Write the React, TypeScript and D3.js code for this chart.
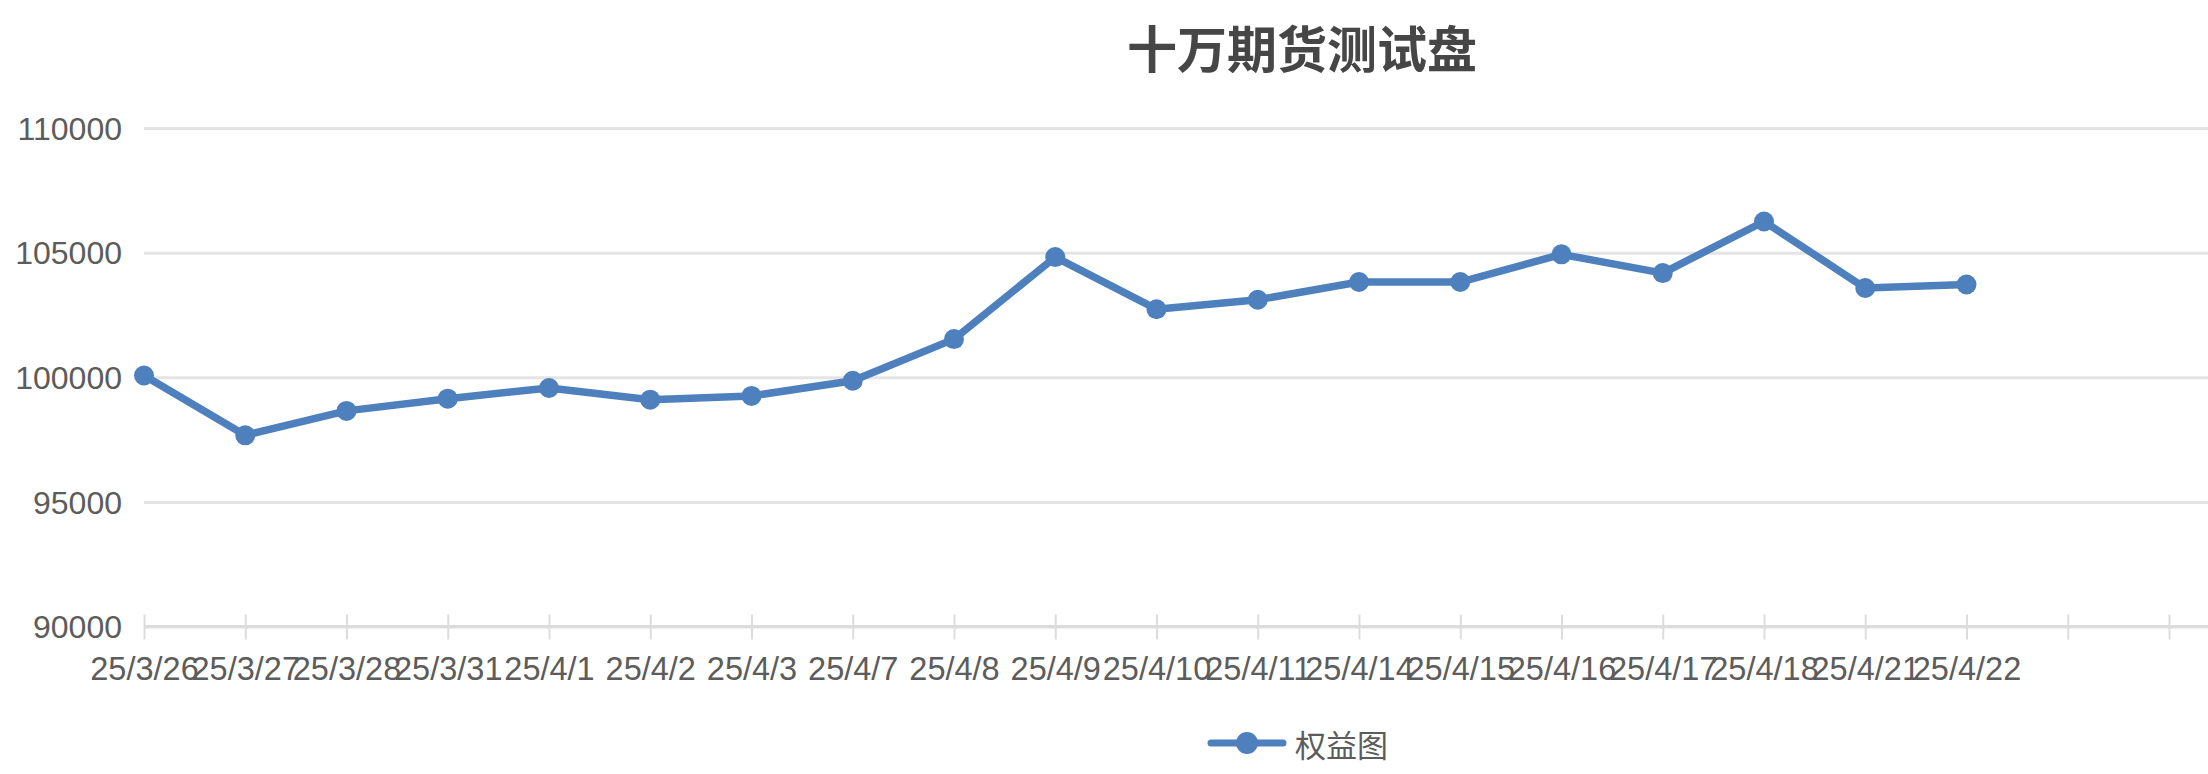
import * as d3 from "d3";
import React from "react";

// x categories (trailing blanks are empty slots on the axis)
const dates = [
  "25/3/26", "25/3/27", "25/3/28", "25/3/31", "25/4/1", "25/4/2", "25/4/3",
  "25/4/7", "25/4/8", "25/4/9", "25/4/10", "25/4/11", "25/4/14", "25/4/15",
  "25/4/16", "25/4/17", "25/4/18", "25/4/21", "25/4/22", "", "", "",
];
// equity series
const equity = [
  100070, 97670, 98650, 99140, 99570, 99100, 99250, 99860, 101530, 104820,
  102730, 103110, 103820, 103820, 104930, 104180, 106250, 103580, 103720,
];
const yTicks = [90000, 95000, 100000, 105000, 110000];
const title = "十万期货测试盘";
const seriesName = "权益图";

const App: React.FC = (): React.ReactElement => {
  const ref = React.useRef<SVGSVGElement>(null);

  React.useEffect(() => {
    const svgDimensions = { width: 2208, height: 774 };
    const margin = { left: 144, top: 128, bottom: 147.5 };
    const step = 101.25;
    const COLOR = "#4e80bd";
    const TEXT = "#5c5c5c";
    const FONT = "'Liberation Sans', Arial, sans-serif";
    const CJK = "'Noto Sans CJK SC', sans-serif";

    const svg = d3.select(ref.current);
    svg.selectAll("*").remove();

    const x = d3
      .scalePoint<number>()
      .domain(dates.map((_, i) => i))
      .range([margin.left, margin.left + step * (dates.length - 1)]);

    const y = d3
      .scaleLinear()
      .domain([90000, 110000])
      .range([svgDimensions.height - margin.bottom, margin.top]);

    // grid + y labels
    const yAxis = svg
      .append("g")
      .attr("transform", `translate(${margin.left},0)`)
      .call(
        d3
          .axisLeft(y)
          .tickValues(yTicks)
          .tickSize(-(svgDimensions.width - margin.left))
          .tickPadding(22)
          .tickFormat((d) => String(d))
      );
    yAxis.select(".domain").remove();
    yAxis.selectAll(".tick line").attr("stroke", "#e4e4e4").attr("stroke-width", 3);
    yAxis
      .selectAll(".tick text")
      .attr("fill", TEXT)
      .attr("font-size", 32)
      .attr("font-family", FONT)
      .attr("dy", "0.35em");

    // x axis
    const xAxis = svg
      .append("g")
      .attr("transform", `translate(0,${y(90000)})`)
      .call(
        d3
          .axisBottom(x)
          .tickSizeOuter(0)
          .tickFormat((i) => dates[i as number])
      );
    xAxis
      .select(".domain")
      .attr("d", `M${margin.left},0H${svgDimensions.width}`)
      .attr("stroke", "#dcdcdc")
      .attr("stroke-width", 3);
    xAxis
      .selectAll(".tick line")
      .attr("y1", -12)
      .attr("y2", 13)
      .attr("stroke", "#dcdcdc")
      .attr("stroke-width", 2);
    xAxis
      .selectAll(".tick text")
      .attr("y", 42.5)
      .attr("dy", "0.35em")
      .attr("fill", TEXT)
      .attr("font-size", 32.5)
      .attr("font-family", FONT);

    // line + markers
    const line = d3
      .line<number>()
      .x((_, i) => x(i) as number)
      .y((d) => y(d));

    svg
      .append("path")
      .datum(equity)
      .attr("d", line)
      .attr("fill", "none")
      .attr("stroke", COLOR)
      .attr("stroke-width", 7.5)
      .attr("stroke-linejoin", "round");

    svg
      .append("g")
      .selectAll("circle")
      .data(equity)
      .enter()
      .append("circle")
      .attr("cx", (_, i) => x(i) as number)
      .attr("cy", (d) => y(d))
      .attr("r", 10)
      .attr("fill", COLOR);

    // title
    svg
      .append("text")
      .attr("x", 1302)
      .attr("y", 46)
      .attr("text-anchor", "middle")
      .attr("dominant-baseline", "central")
      .attr("font-size", 50)
      .attr("font-weight", "bold")
      .attr("font-family", CJK)
      .attr("fill", "#464646")
      .text(title);

    // legend
    const legend = svg.append("g").attr("transform", "translate(1207,743)");
    legend
      .append("line")
      .attr("x1", 4)
      .attr("x2", 76)
      .attr("stroke", COLOR)
      .attr("stroke-width", 7)
      .attr("stroke-linecap", "round");
    legend.append("circle").attr("cx", 40).attr("r", 11).attr("fill", COLOR);
    legend
      .append("text")
      .attr("x", 88)
      .attr("dominant-baseline", "central")
      .attr("font-size", 31)
      .attr("font-family", CJK)
      .attr("fill", TEXT)
      .text(seriesName);
  }, []);

  return (
    <svg
      ref={ref}
      width={2208}
      height={774}
      style={{ position: "absolute", left: 0, top: 0, background: "#fff" }}
    />
  );
};

export default App;
